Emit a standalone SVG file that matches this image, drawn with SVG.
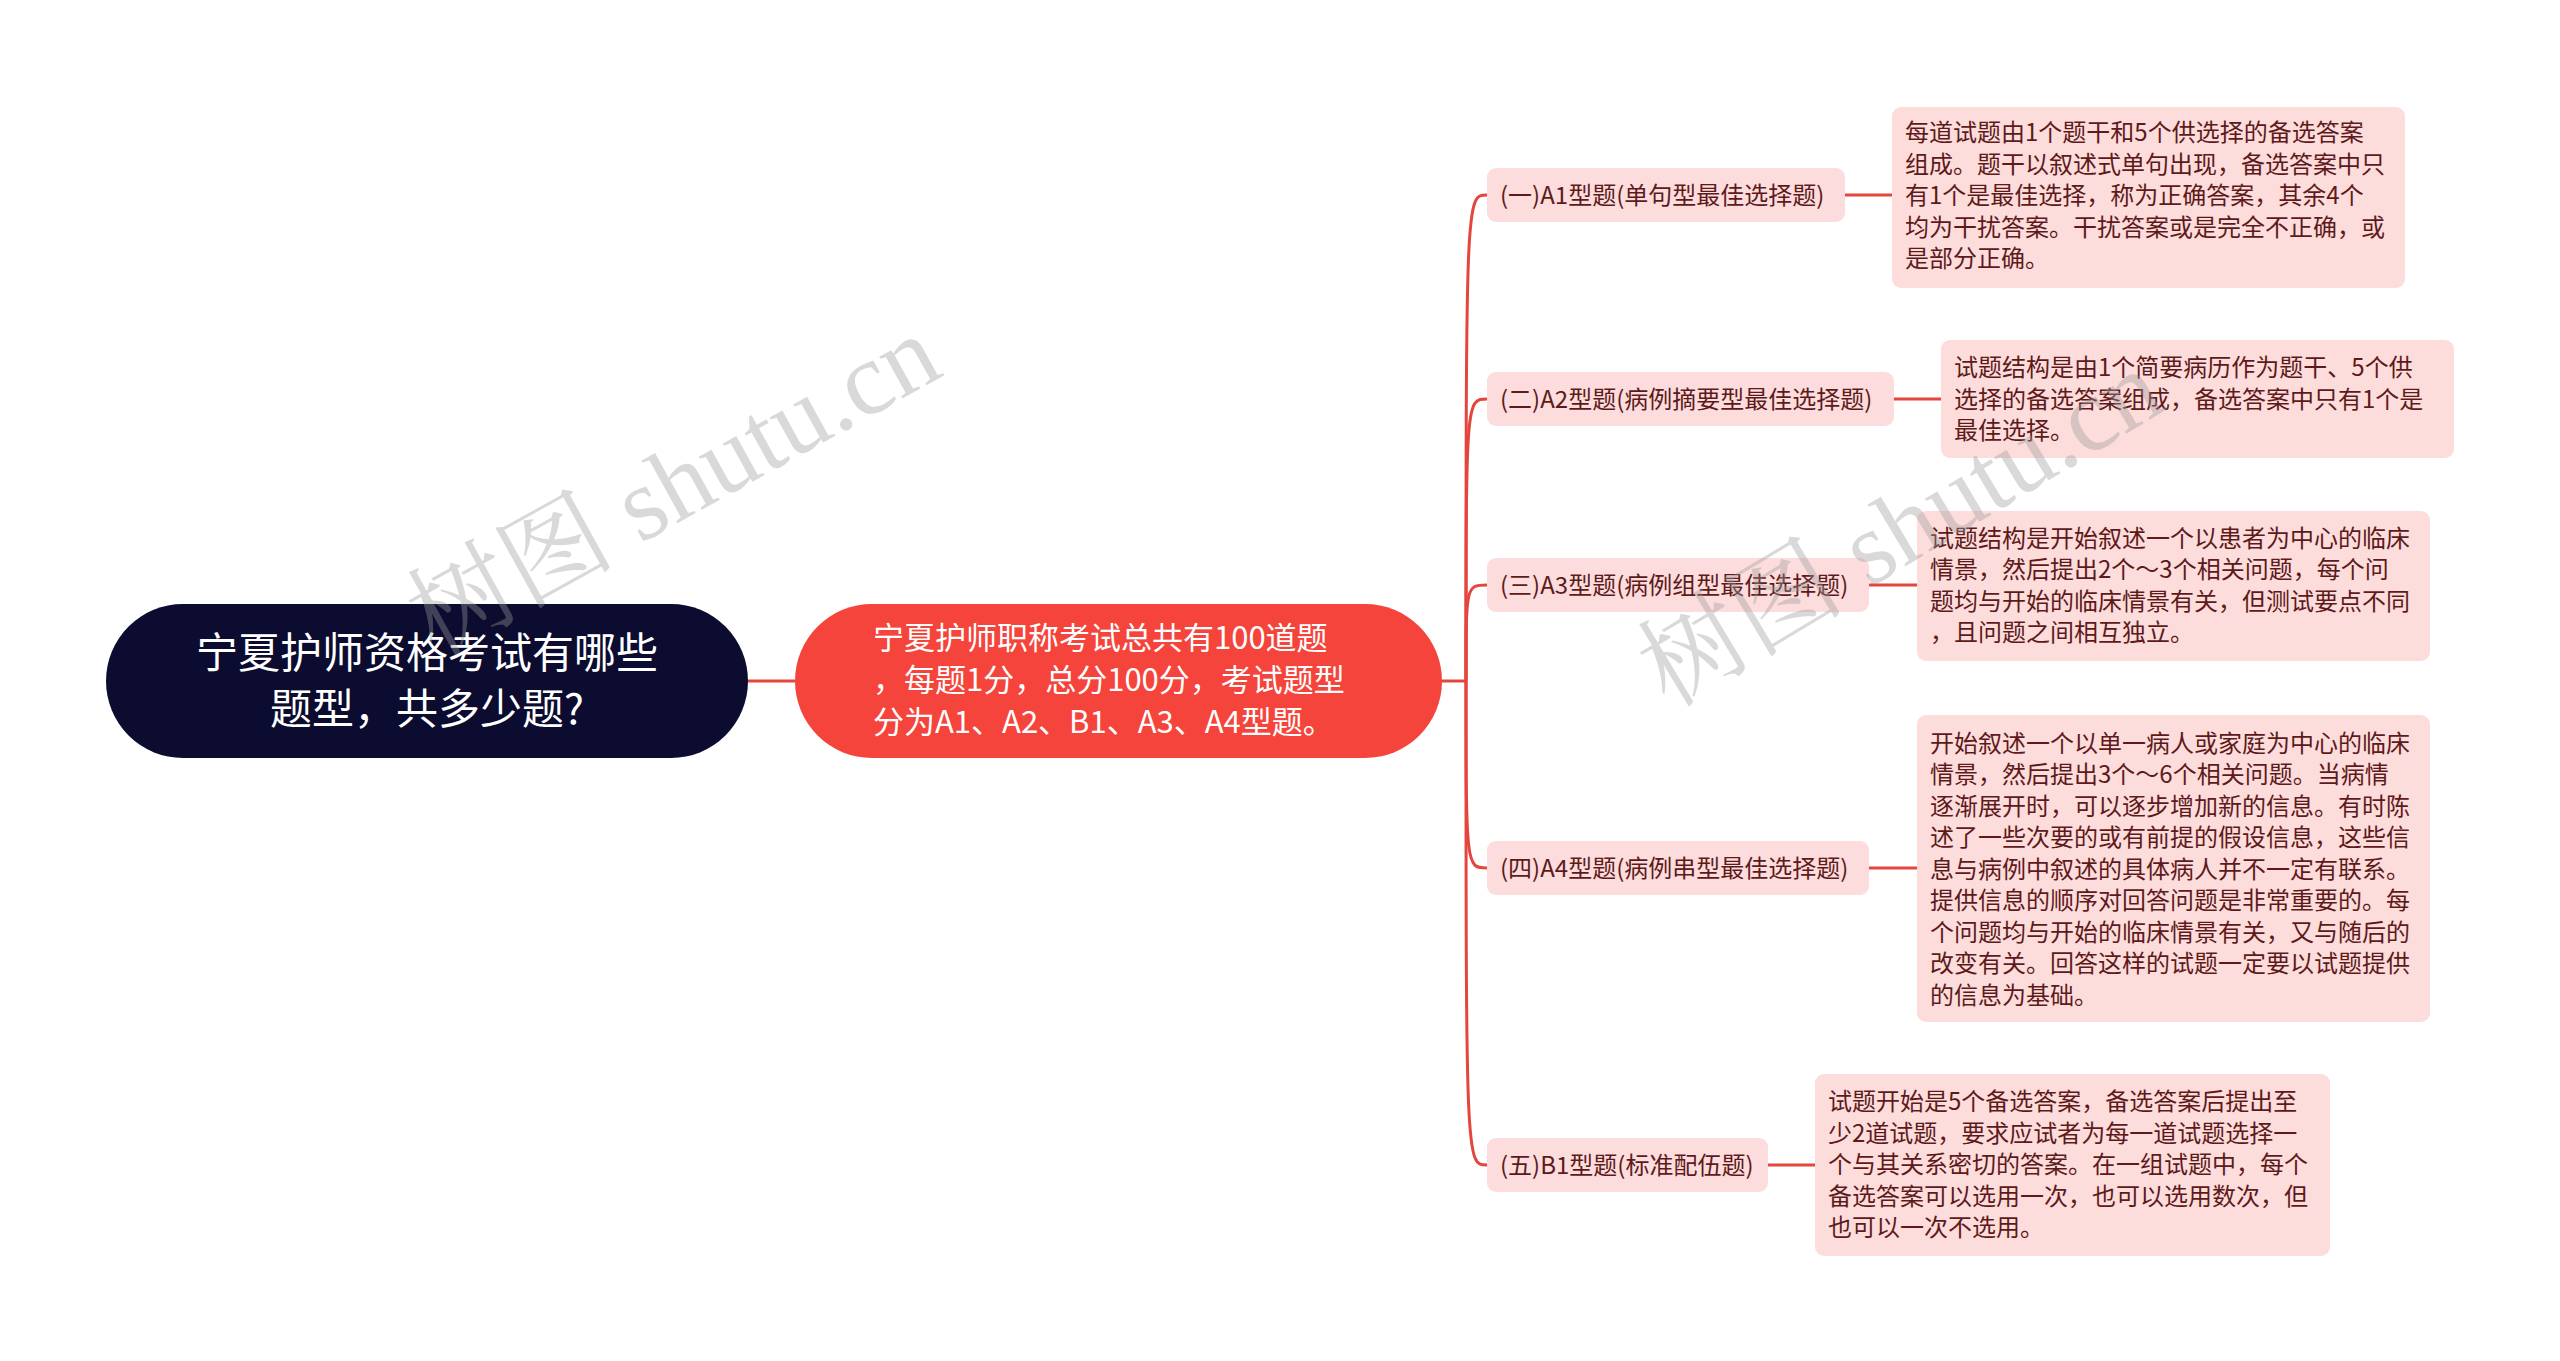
<svg xmlns="http://www.w3.org/2000/svg" width="2560" height="1361" viewBox="0 0 2560 1361">
<style>
text{font-family:"Noto Sans CJK SC","Microsoft YaHei","Noto Sans",sans-serif}
.root{fill:#0b0c30}
.roott{fill:#ffffff;font-size:42px}
.main{fill:#f5443b}
.maint{fill:#ffffff;font-size:31px}
.sub{fill:#fcdcdc}
.leaf{fill:#fddcdc}
.t{fill:#5e1a1a;font-size:24px}
.c{fill:none;stroke:#e4453d;stroke-width:3}
.wm{fill:#9a9a9a;fill-opacity:0.38;font-family:"Liberation Serif","Noto Serif CJK SC","Noto Sans CJK SC",serif;font-size:104px}
</style>
<rect width="2560" height="1361" fill="#ffffff"/>
<g id="connectors">
<path class="c" d="M748 681 H795"/>
<path class="c" d="M1442 681 H1466"/>
<path class="c" d="M1466 681 C1466 195 1466 195 1487 195"/>
<path class="c" d="M1466 681 C1466 399 1466 399 1487 399"/>
<path class="c" d="M1466 681 C1466 585 1466 585 1487 585"/>
<path class="c" d="M1466 681 C1466 868 1466 868 1487 868"/>
<path class="c" d="M1466 681 C1466 1165 1466 1165 1487 1165"/>
<path class="c" d="M1845 195 H1892"/>
<path class="c" d="M1894 399 H1941"/>
<path class="c" d="M1869 585 H1917"/>
<path class="c" d="M1869 868 H1917"/>
<path class="c" d="M1768 1165 H1815"/>
</g>
<g id="root">
<rect class="root" x="106" y="604" width="642" height="154" rx="77"/>
<text class="roott" x="427" y="668" text-anchor="middle">宁夏护师资格考试有哪些</text>
<text class="roott" x="427" y="724" text-anchor="middle">题型，共多少题?</text>
</g>
<g id="main">
<rect class="main" x="795" y="604" width="647" height="154" rx="77"/>
<text class="maint" x="873" y="649">宁夏护师职称考试总共有100道题</text>
<text class="maint" x="873" y="691">，每题1分，总分100分，考试题型</text>
<text class="maint" x="873" y="733">分为A1、A2、B1、A3、A4型题。</text>
</g>
<g id="n1">
<rect class="sub" x="1487" y="168" width="358" height="54" rx="9"/>
<text class="t" x="1500" y="203.5">(一)A1型题(单句型最佳选择题)</text>
</g>
<g id="n2">
<rect class="sub" x="1487" y="372" width="407" height="54" rx="9"/>
<text class="t" x="1500" y="407.5">(二)A2型题(病例摘要型最佳选择题)</text>
</g>
<g id="n3">
<rect class="sub" x="1487" y="558" width="382" height="54" rx="9"/>
<text class="t" x="1500" y="593.5">(三)A3型题(病例组型最佳选择题)</text>
</g>
<g id="n4">
<rect class="sub" x="1487" y="841" width="382" height="54" rx="9"/>
<text class="t" x="1500" y="876.5">(四)A4型题(病例串型最佳选择题)</text>
</g>
<g id="n5">
<rect class="sub" x="1487" y="1138" width="281" height="54" rx="9"/>
<text class="t" x="1500" y="1173.5">(五)B1型题(标准配伍题)</text>
</g>
<g id="l1">
<rect class="leaf" x="1892" y="107" width="513" height="181" rx="9"/>
<text class="t" x="1905" y="141">每道试题由1个题干和5个供选择的备选答案</text>
<text class="t" x="1905" y="172.5">组成。题干以叙述式单句出现，备选答案中只</text>
<text class="t" x="1905" y="204">有1个是最佳选择，称为正确答案，其余4个</text>
<text class="t" x="1905" y="235.5">均为干扰答案。干扰答案或是完全不正确，或</text>
<text class="t" x="1905" y="267">是部分正确。</text>
</g>
<g id="l2">
<rect class="leaf" x="1941" y="340" width="513" height="118" rx="9"/>
<text class="t" x="1954" y="376">试题结构是由1个简要病历作为题干、5个供</text>
<text class="t" x="1954" y="407.5">选择的备选答案组成，备选答案中只有1个是</text>
<text class="t" x="1954" y="439">最佳选择。</text>
</g>
<g id="l3">
<rect class="leaf" x="1917" y="511" width="513" height="150" rx="9"/>
<text class="t" x="1930" y="546.5">试题结构是开始叙述一个以患者为中心的临床</text>
<text class="t" x="1930" y="578">情景，然后提出2个～3个相关问题，每个问</text>
<text class="t" x="1930" y="609.5">题均与开始的临床情景有关，但测试要点不同</text>
<text class="t" x="1930" y="641">，且问题之间相互独立。</text>
</g>
<g id="l4">
<rect class="leaf" x="1917" y="715" width="513" height="307" rx="9"/>
<text class="t" x="1930" y="751.5">开始叙述一个以单一病人或家庭为中心的临床</text>
<text class="t" x="1930" y="783">情景，然后提出3个～6个相关问题。当病情</text>
<text class="t" x="1930" y="814.5">逐渐展开时，可以逐步增加新的信息。有时陈</text>
<text class="t" x="1930" y="846">述了一些次要的或有前提的假设信息，这些信</text>
<text class="t" x="1930" y="877.5">息与病例中叙述的具体病人并不一定有联系。</text>
<text class="t" x="1930" y="909">提供信息的顺序对回答问题是非常重要的。每</text>
<text class="t" x="1930" y="940.5">个问题均与开始的临床情景有关，又与随后的</text>
<text class="t" x="1930" y="972">改变有关。回答这样的试题一定要以试题提供</text>
<text class="t" x="1930" y="1003.5">的信息为基础。</text>
</g>
<g id="l5">
<rect class="leaf" x="1815" y="1074" width="515" height="182" rx="9"/>
<text class="t" x="1828" y="1110">试题开始是5个备选答案，备选答案后提出至</text>
<text class="t" x="1828" y="1141.5">少2道试题，要求应试者为每一道试题选择一</text>
<text class="t" x="1828" y="1173">个与其关系密切的答案。在一组试题中，每个</text>
<text class="t" x="1828" y="1204.5">备选答案可以选用一次，也可以选用数次，但</text>
<text class="t" x="1828" y="1236">也可以一次不选用。</text>
</g>
<g id="watermarks">
<text class="wm" x="675" y="520" text-anchor="middle" transform="rotate(-29 675 488)">树图 shutu.cn</text>
<text class="wm" x="1902" y="563" text-anchor="middle" transform="rotate(-31 1902 531)">树图 shutu.cn</text>
</g>
</svg>
